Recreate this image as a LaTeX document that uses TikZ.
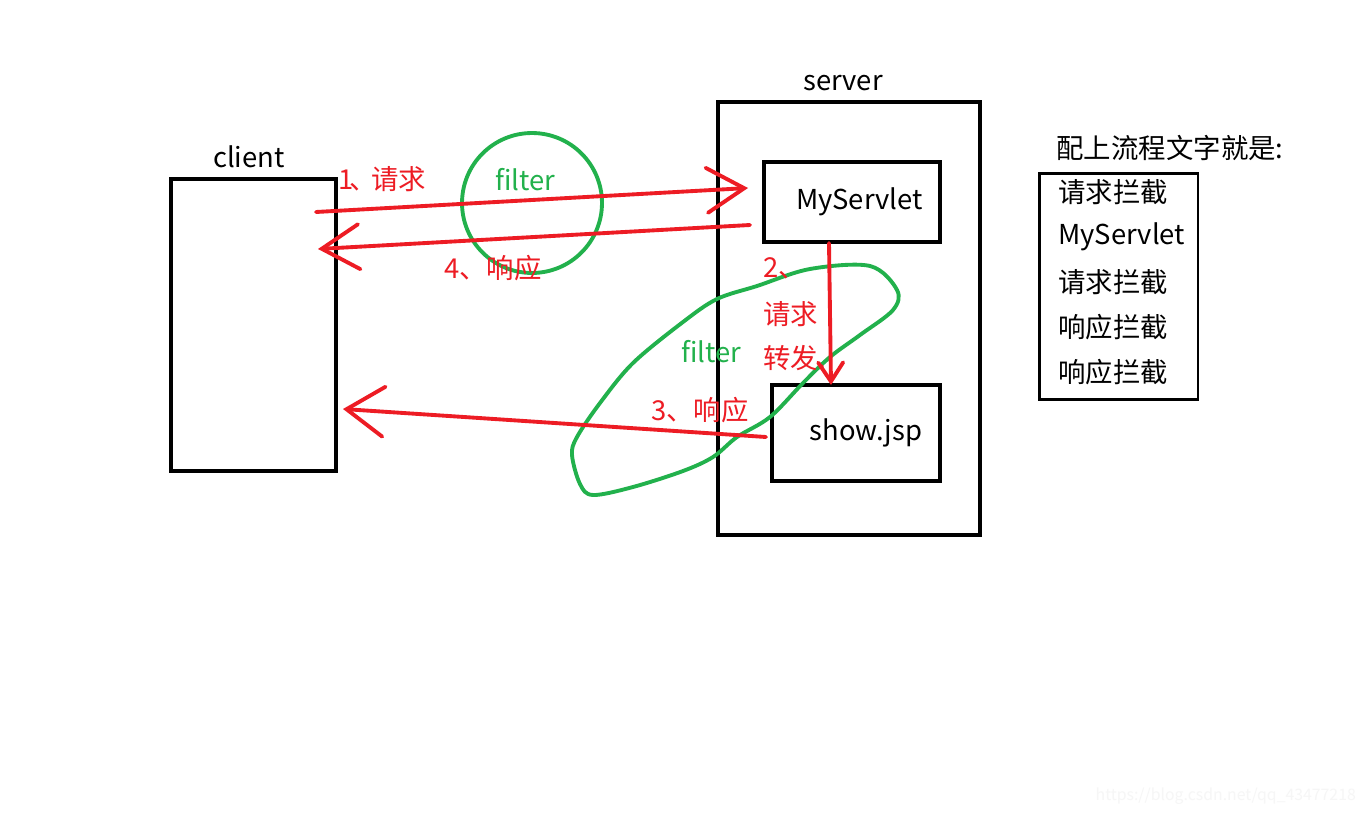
\documentclass[tikz,border=0pt]{standalone}
\usepackage{fontspec}
\setmainfont{Noto Sans CJK SC}
\usepackage{xcolor}
\definecolor{penred}{HTML}{ED1C24}
\definecolor{pengreen}{HTML}{22B14C}
\definecolor{markgray}{HTML}{F6F6F6}
\usepackage{tikz}
\usetikzlibrary{arrows.meta, positioning}

\begin{document}
\begin{tikzpicture}[x=0.02cm, y=-0.02cm,
    lbl/.style={font=\fontsize{15.6}{18}\selectfont, inner sep=0pt},
    box/.style={lbl, draw=black, line width=2.3pt},
    redlbl/.style={lbl, text=penred},
    greenlbl/.style={lbl, text=pengreen},
    redline/.style={draw=penred, line width=2.2pt, line cap=round,
      -{Straight Barb[length=0.75cm, width=0.9cm, line cap=round]}},
    greenloop/.style={draw=pengreen, line width=2.2pt}]
        % Canvas
        \fill[white] (0,0) rectangle (1372,814);
        \useasboundingbox (0,0) rectangle (1372,814);
        % Client
        \node[box, minimum width=3.3cm, minimum height=5.84cm] (client) at (253.5,325) {};
        \node[lbl] (clientlbl) at (249,157) {client};
        % Server with its two parts
        \node[box, minimum width=5.24cm, minimum height=8.66cm] (server) at (849,318.5) {};
        \node[lbl] (serverlbl) at (843,83) {server};
        \node[box, minimum width=3.52cm, minimum height=1.6cm] (myservlet) at (852,202) {\hspace{0.3cm}MyServlet};
        \node[box, minimum width=3.36cm, minimum height=1.92cm] (showjsp) at (856,433) {\hspace{0.4cm}show.jsp};
        % First filter
        \node[draw=pengreen, line width=2.2pt, circle, minimum size=2.8cm] (filterA) at (532,203) {};
        \node[greenlbl] (filterAlbl) at (525,180) {filter};
        % Second filter (hand drawn loop)
        \draw[greenloop] plot[smooth cycle, tension=0.55] coordinates {
          (870,266) (897,290) (893,310) (860,335) (830,357) (803,383)
          (770,417) (737,437) (713,457) (683,471) (633,487) (593,495)
          (580,484) (572,455) (577,437) (600,403) (633,363) (683,322)
          (717,299) (757,286) (810,269)};
        \node[greenlbl] (filterBlbl) at (711,352) {filter};
        % Request and response
        \coordinate (reqfrom) at (316,212);
        \coordinate (reqto) at (748,188);
        \draw[redline] (reqfrom) -- (reqto);
        \node[redlbl, anchor=west] (reqlbl) at (338,179) {1\kern-0.15em、\kern-0.2em请求};
        \coordinate (respfrom) at (750,225);
        \coordinate (respto) at (318,249);
        \draw[redline] (respfrom) -- (respto);
        \node[redlbl] (resplbl) at (493,268) {4、响应};
        % Forward
        \coordinate (fwdfrom) at (829,243);
        \coordinate (fwdto) at (831,385);
        \draw[redline, -{Straight Barb[length=0.38cm, width=0.5cm, line cap=round]}] (fwdfrom) -- (fwdto);
        \node[redlbl, anchor=west] (fwdlblA) at (763,268) {2、};
        \node[redlbl, anchor=west] (fwdlblB) at (763,314) {请求};
        \node[redlbl, anchor=west] (fwdlblC) at (763,358) {转发.};
        % Response of show.jsp
        \coordinate (jspfrom) at (766,437);
        \coordinate (jspto) at (343,409);
        \draw[redline, -{Straight Barb[length=0.75cm, width=1cm, line cap=round]}] (jspfrom) -- (jspto);
        \node[redlbl] (jsplbl) at (700,410) {3、响应};
        % Order of the steps
        \node[lbl] (steptitle) at (1170,148) {配上流程文字就是:};
        \node[draw=black, line width=1.7pt, minimum width=3.18cm, minimum height=4.54cm] (stepbox) at (1118.5,286.5) {};
        \foreach \txt [count=\i] in {请求拦截, MyServlet, 请求拦截, 响应拦截, 响应拦截}
          \node[lbl, anchor=west] (step\i) at (1058,147+45*\i) {\txt};
        % Watermark
        \node[font=\fontsize{9}{11}\selectfont, text=markgray, anchor=east] (mark) at (1362,796) {https://blog.csdn.net/qq\_43477218};
      \end{tikzpicture}
\end{document}
